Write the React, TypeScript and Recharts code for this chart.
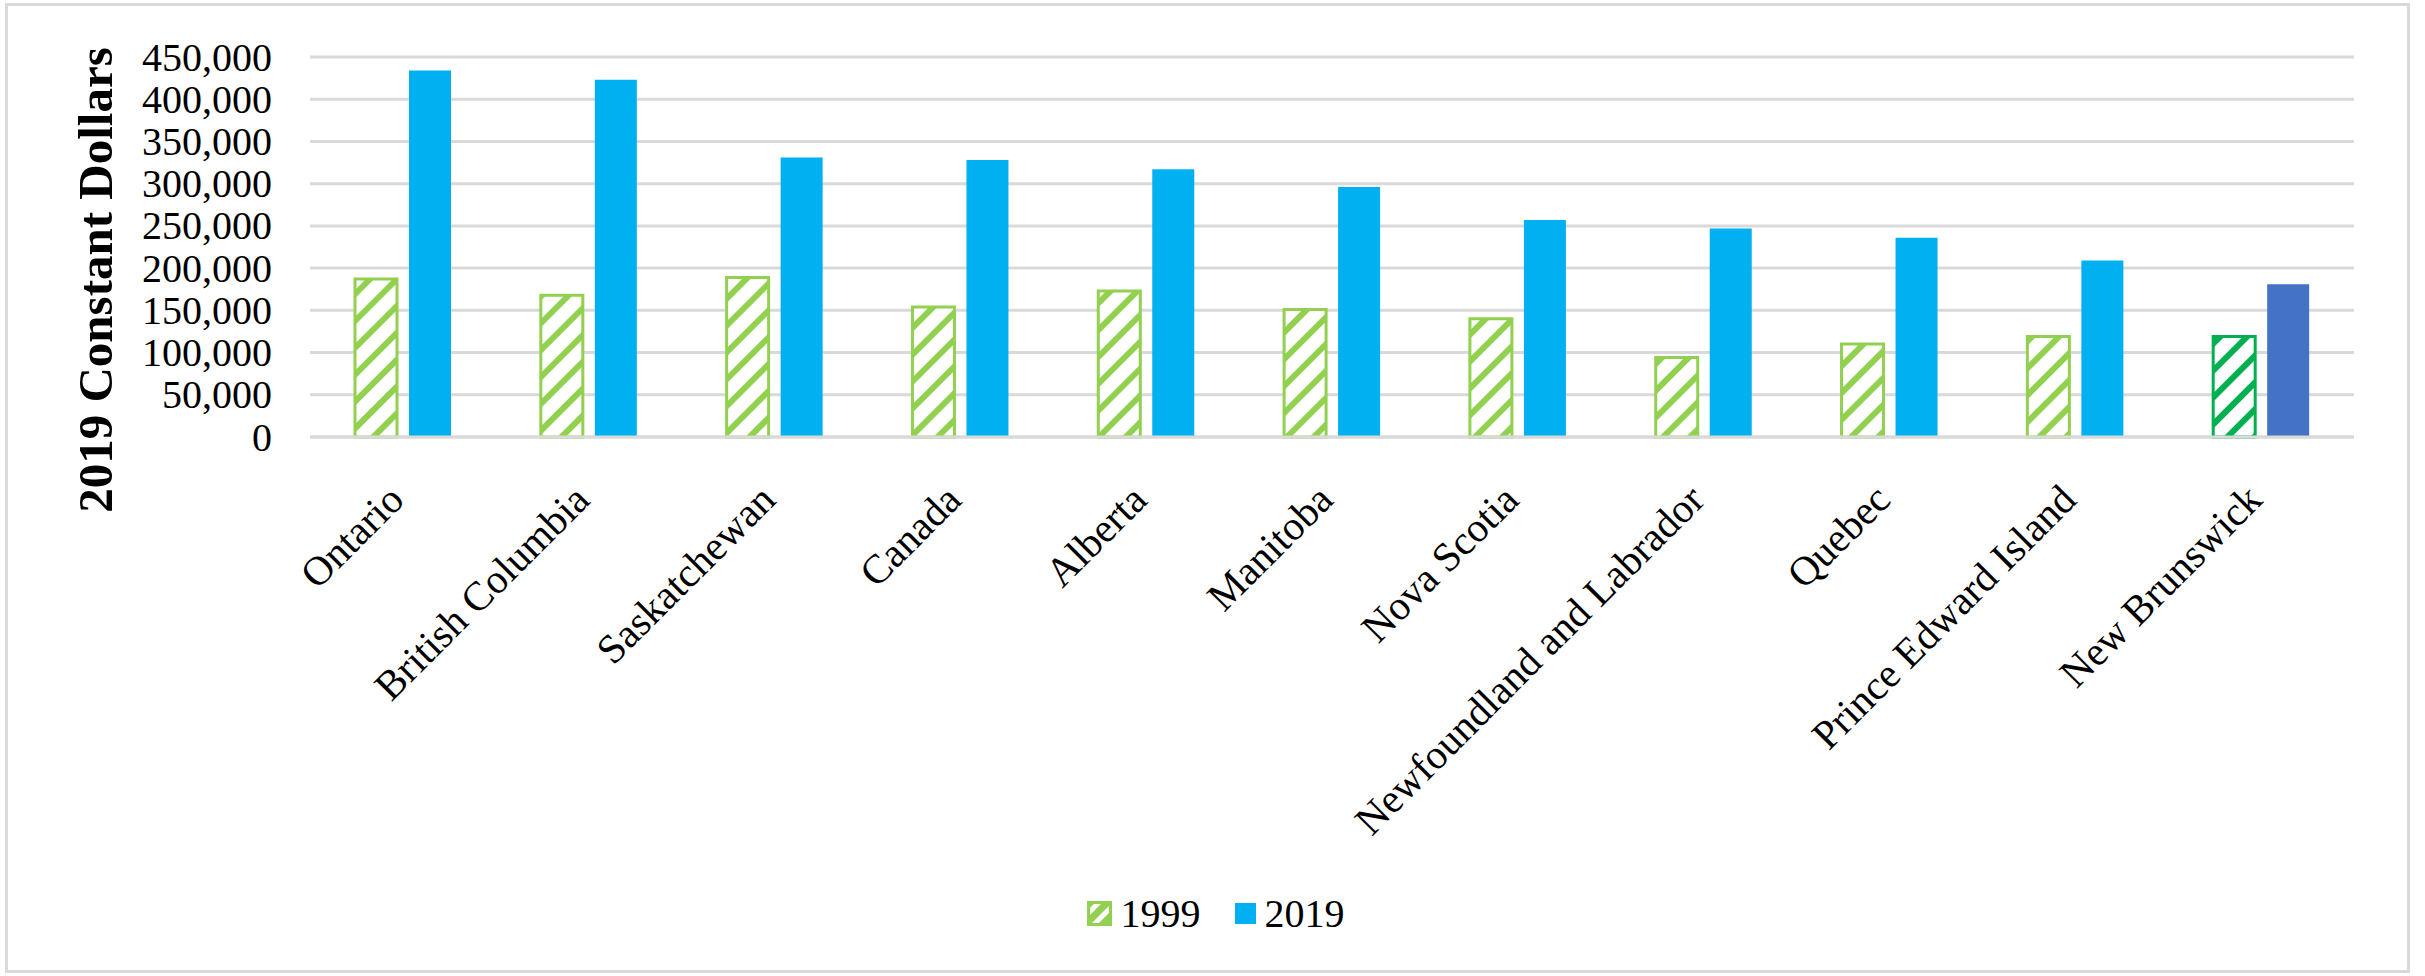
import {
  BarChart,
  Bar,
  Cell,
  XAxis,
  YAxis,
  CartesianGrid,
  Legend,
  Label,
} from "recharts";

const provinces = [
  "Ontario",
  "British Columbia",
  "Saskatchewan",
  "Canada",
  "Alberta",
  "Manitoba",
  "Nova Scotia",
  "Newfoundland and Labrador",
  "Quebec",
  "Prince Edward Island",
  "New Brunswick",
];
const values1999 = [187000, 168000, 189000, 154000, 173000, 151000, 140000, 94000, 110000, 119000, 119000];
const values2019 = [434000, 423000, 331000, 328000, 317000, 296000, 257000, 247000, 236000, 209000, 181000];
const yTicks = [0, 50000, 100000, 150000, 200000, 250000, 300000, 350000, 400000, 450000];
const seriesNames = ["1999", "2019"];

const data = provinces.map((p, i) => ({
  name: p,
  y1999: values1999[i],
  y2019: values2019[i],
}));

const FONT = '"Liberation Serif", "Times New Roman", serif';
const LIGHT_GREEN = "#92D050";
const DARK_GREEN = "#00B050";
const BLUE = "#00B0F0";
const DARK_BLUE = "#4472C4";

const YTick = (props: any) => {
  const { x, y, payload } = props;
  return (
    <text x={x} y={y} dy="0.34em" textAnchor="end" fontFamily={FONT} fontSize={40} fill="#000">
      {Number(payload.value).toLocaleString("en-US")}
    </text>
  );
};

const XTick = (props: any) => {
  const { x, y, payload } = props;
  return (
    <g transform={`translate(${x + 3},${y + 57})`}>
      <text textAnchor="end" transform="rotate(-45)" fontFamily={FONT} fontSize={41} fill="#000">
        {payload.value}
      </text>
    </g>
  );
};

const YTitle = (props: any) => {
  const vb = props.viewBox || {};
  const cx = 95;
  const cy = vb.y + vb.height / 2 + 33;
  return (
    <text
      x={cx}
      y={cy}
      transform={`rotate(-90, ${cx}, ${cy})`}
      textAnchor="middle"
      dominantBaseline="central"
      fontFamily={FONT}
      fontSize={49}
      fontWeight="bold"
      fill="#000"
    >
      2019 Constant Dollars
    </text>
  );
};

const LegendBox = () => (
  <div
    style={{
      display: "flex",
      justifyContent: "center",
      alignItems: "center",
      fontFamily: FONT,
      fontSize: 40,
      color: "#000",
      paddingLeft: 6,
    }}
  >
    <svg width={25} height={25} style={{ marginRight: 9 }}>
      <defs>
        <pattern id="hatchLegend" patternUnits="userSpaceOnUse" width="12" height="12" patternTransform="rotate(45)">
          <rect width="12" height="12" fill="#fff" />
          <rect width="7" height="12" fill={LIGHT_GREEN} />
        </pattern>
      </defs>
      <rect x={1.5} y={1.5} width={22} height={22} fill="url(#hatchLegend)" stroke={LIGHT_GREEN} strokeWidth={3} />
    </svg>
    <span style={{ marginRight: 34 }}>{seriesNames[0]}</span>
    <svg width={21} height={21} style={{ marginRight: 9 }}>
      <rect width={21} height={21} fill={BLUE} />
    </svg>
    <span>{seriesNames[1]}</span>
  </div>
);

export default function App() {
  return (
    <div style={{ position: "absolute", left: 0, top: 0, width: 2425, height: 976, background: "#fff" }}>
      <div
        style={{
          position: "absolute",
          left: 5,
          top: 3,
          width: 2399,
          height: 964,
          border: "3px solid #D9D9D9",
        }}
      />
      <div style={{ position: "absolute", left: 0, top: 0 }}>
        <BarChart
          width={2425}
          height={976}
          data={data}
          margin={{ top: 57, right: 71, bottom: 0, left: 0 }}
          barSize={42}
          barGap={12}
        >
          <defs>
            <pattern id="hatchLight" patternUnits="userSpaceOnUse" width="19" height="19" patternTransform="rotate(45)">
              <rect width="19" height="19" fill="#fff" />
              <rect width="6" height="19" fill={LIGHT_GREEN} />
            </pattern>
            <pattern id="hatchDark" patternUnits="userSpaceOnUse" width="19" height="19" patternTransform="rotate(45)">
              <rect width="19" height="19" fill="#fff" />
              <rect width="6" height="19" fill={DARK_GREEN} />
            </pattern>
          </defs>
          <CartesianGrid vertical={false} stroke="#D9D9D9" strokeWidth={3} />
          <XAxis
            dataKey="name"
            interval={0}
            height={539}
            axisLine={{ stroke: "#D9D9D9", strokeWidth: 3 }}
            tickLine={false}
            tick={<XTick />}
          />
          <YAxis
            width={310}
            domain={[0, 450000]}
            ticks={yTicks}
            axisLine={false}
            tickLine={false}
            tickMargin={32}
            tick={<YTick />}
          >
            <Label content={<YTitle />} />
          </YAxis>
          <Legend
            verticalAlign="middle"
            layout="horizontal"
            wrapperStyle={{ top: 890, left: 0, width: 2425 }}
            content={<LegendBox />}
          />
          <Bar dataKey="y1999" name={seriesNames[0]} fill="url(#hatchLight)" stroke={LIGHT_GREEN} strokeWidth={3} isAnimationActive={false}>
            {data.map((d, i) => (
              <Cell
                key={d.name}
                fill={i === data.length - 1 ? "url(#hatchDark)" : "url(#hatchLight)"}
                stroke={i === data.length - 1 ? DARK_GREEN : LIGHT_GREEN}
              />
            ))}
          </Bar>
          <Bar dataKey="y2019" name={seriesNames[1]} fill={BLUE} isAnimationActive={false}>
            {data.map((d, i) => (
              <Cell key={d.name} fill={i === data.length - 1 ? DARK_BLUE : BLUE} />
            ))}
          </Bar>
        </BarChart>
      </div>
    </div>
  );
}
